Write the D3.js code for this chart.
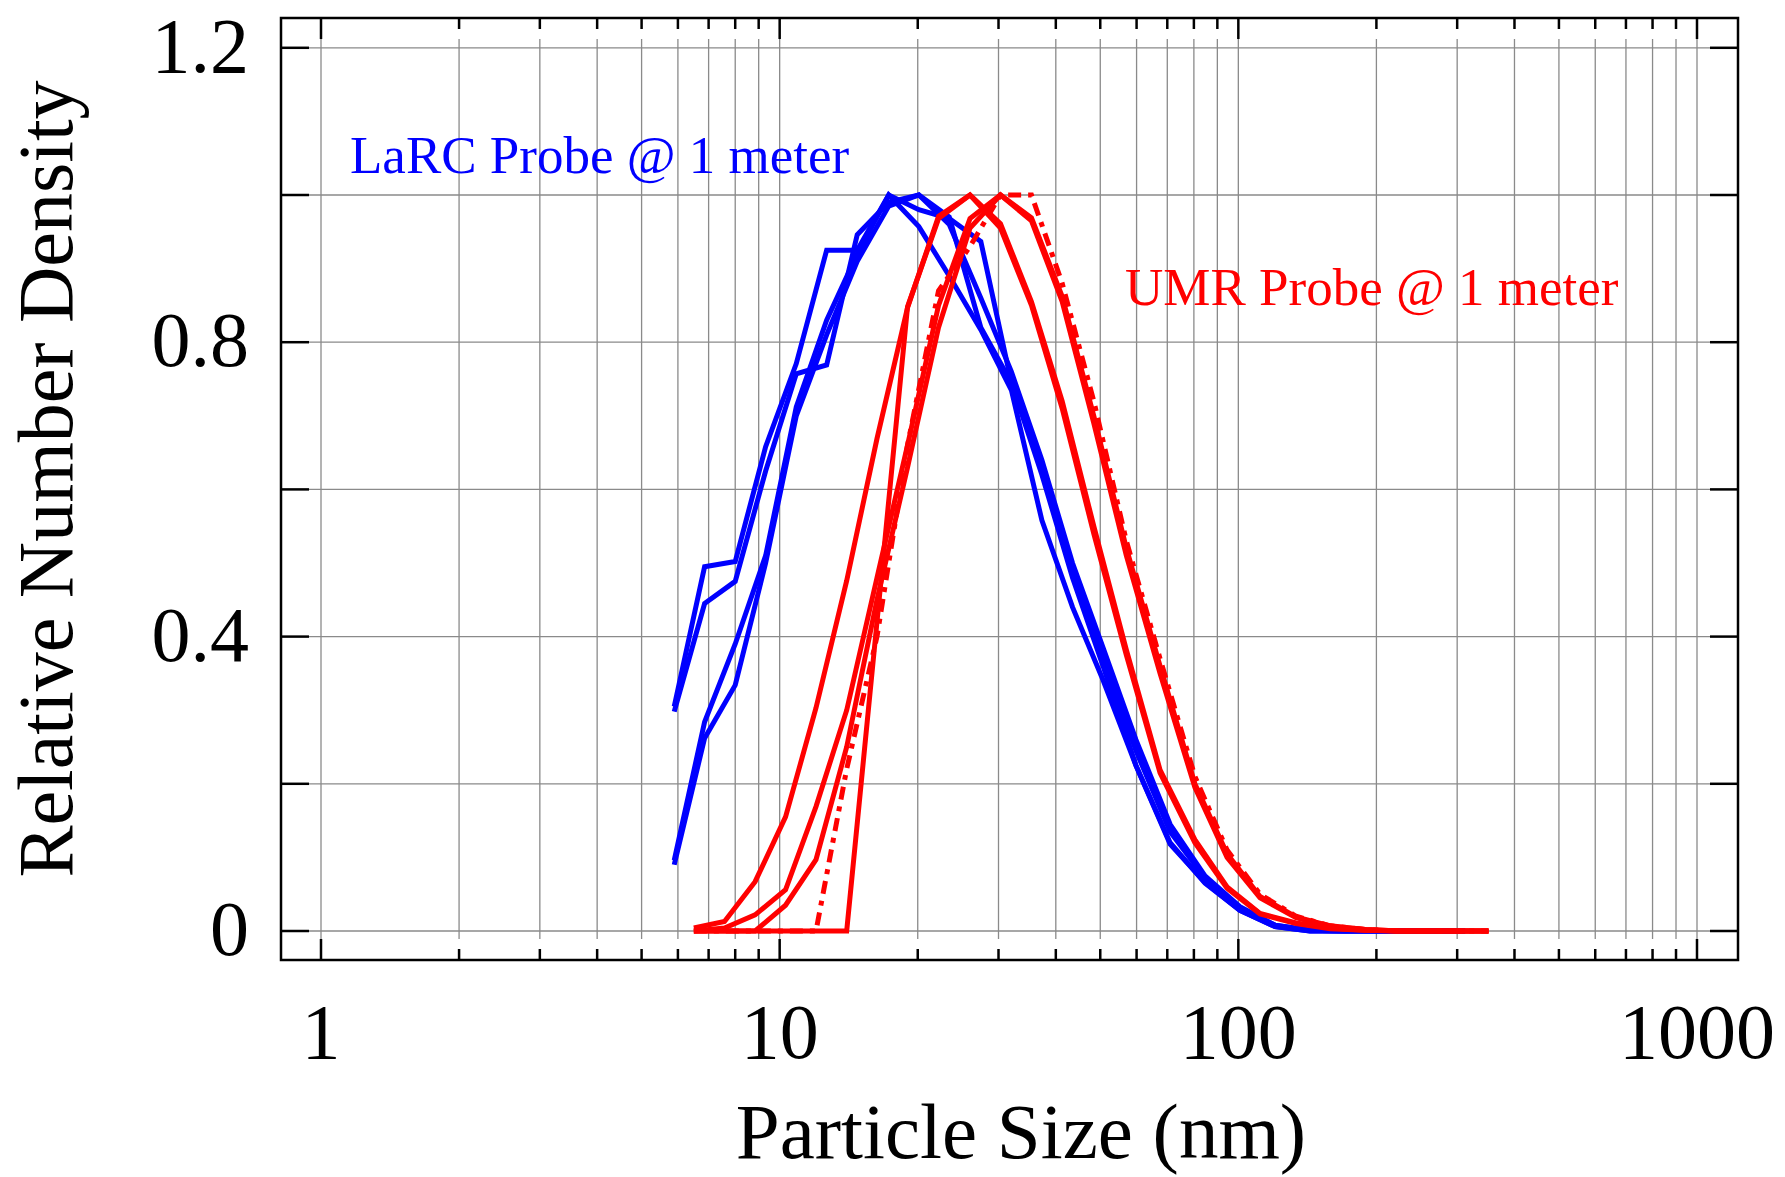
<!DOCTYPE html>
<html>
<head>
<meta charset="utf-8">
<script src="https://cdn.jsdelivr.net/npm/d3@7"></script>
<style>
  body { margin: 0; background: #fff; }
  text { font-family: "Liberation Serif", "Times New Roman", serif; }
</style>
</head>
<body>
<svg width="1785" height="1177"></svg>
<script>
// Size bins (nm)
const blueSize = [5.89, 6.86, 8.0, 9.32, 10.87, 12.66, 14.76, 17.29, 20.11, 23.43, 27.45, 32.0,
  37.3, 43.5, 50.7, 59.8, 71.0, 84.6, 100.8, 120.2, 143.3, 170.9, 203.8, 249.1, 312.3];
const redSize = [6.5, 7.58, 8.84, 10.3, 12.0, 14.0, 16.3, 19.0, 22.2, 26.0, 30.3, 35.4, 41.3,
  48.4, 57.0, 67.5, 80.4, 94.5, 111.5, 133.6, 158.5, 188.9, 225, 269, 312, 351];

// LaRC probe runs
const larcA = [0.305, 0.495, 0.502, 0.658, 0.771, 0.925, 0.925, 1.0, 0.98, 0.968, 0.937, 0.745,
  0.63, 0.49, 0.37, 0.245, 0.135, 0.072, 0.031, 0.008, 0.001, 0, 0, 0, 0];
const larcB = [0.298, 0.445, 0.475, 0.625, 0.757, 0.769, 0.946, 0.99, 1.0, 0.97, 0.82, 0.745,
  0.62, 0.48, 0.36, 0.225, 0.118, 0.066, 0.028, 0.006, 0, 0, 0, 0, 0];
const larcC = [0.096, 0.284, 0.39, 0.51, 0.712, 0.83, 0.92, 1.0, 0.957, 0.89, 0.817, 0.735,
  0.558, 0.44, 0.341, 0.225, 0.12, 0.065, 0.028, 0.006, 0, 0, 0, 0, 0];
const larcD = [0.09, 0.262, 0.334, 0.5, 0.7, 0.81, 0.91, 0.985, 1.0, 0.96, 0.86, 0.76,
  0.64, 0.5, 0.385, 0.26, 0.145, 0.075, 0.033, 0.008, 0.001, 0, 0, 0, 0];

// UMR probe runs
const umr1 = [0.004, 0.013, 0.067, 0.155, 0.303, 0.476, 0.669, 0.847, 0.971, 1.0, 0.961, 0.855,
  0.72, 0.55, 0.382, 0.219, 0.124, 0.06, 0.024, 0.011, 0.004, 0.001, 0, 0, 0, 0];
const umr2 = [0, 0.004, 0.022, 0.056, 0.169, 0.3, 0.48, 0.66, 0.85, 0.968, 1.0, 0.969,
  0.862, 0.7, 0.52, 0.36, 0.2, 0.105, 0.047, 0.019, 0.007, 0.002, 0, 0, 0, 0];
const umr3 = [0, 0, 0, 0.035, 0.097, 0.25, 0.45, 0.63, 0.82, 0.955, 1.0, 0.965,
  0.855, 0.69, 0.51, 0.35, 0.195, 0.1, 0.045, 0.018, 0.006, 0.002, 0, 0, 0, 0];
const umr4 = [0, 0, 0, 0, 0, 0, 0.42, 0.848, 0.968, 1.0, 0.955, 0.85,
  0.71, 0.54, 0.375, 0.215, 0.12, 0.058, 0.023, 0.01, 0.003, 0.001, 0, 0, 0, 0];
const umr5 = [0, 0, 0, 0, 0, 0.22, 0.4, 0.66, 0.87, 0.93, 1.0, 1.0,
  0.88, 0.72, 0.53, 0.37, 0.21, 0.11, 0.05, 0.02, 0.007, 0.002, 0, 0, 0, 0];

// Axis ticks
const xMajor = [1, 10, 100, 1000];
const xMajorLabels = ["1", "10", "100", "1000"];
const yTicks = [0, 0.2, 0.4, 0.6, 0.8, 1.0, 1.2];
const yLabels = [0, 0.4, 0.8, 1.2];

const svg = d3.select("svg");

// Frame and scales
const frame = { left: 281, right: 1738, top: 18, bottom: 960 };
const x = d3.scaleLog().domain([1, 1000]).range([321, 1697]);
const y = d3.scaleLinear().domain([0, 1.2]).range([931, 47.8]);

const yTickLen = 28, xMajorLen = 21, xMinorLen = 11;

const xMinor = [];
xMajor.forEach(function (m) {
  if (m === 1000) return;
  for (let k = 2; k <= 9; k++) xMinor.push(m * k);
});
const xAll = xMajor.concat(xMinor);

// Grid
const grid = svg.append("g").attr("stroke", "#8a8a8a").attr("stroke-width", 1.3);
grid.selectAll("line.v")
  .data(xAll)
  .enter()
  .append("line")
  .attr("x1", d => x(d)).attr("x2", d => x(d))
  .attr("y1", frame.top + xMajorLen).attr("y2", frame.bottom - xMajorLen);
grid.selectAll("line.h")
  .data(yTicks)
  .enter()
  .append("line")
  .attr("x1", frame.left + yTickLen).attr("x2", frame.right - yTickLen)
  .attr("y1", d => y(d)).attr("y2", d => y(d));

// Ticks on all four sides
const ticks = svg.append("g").attr("stroke", "#000").attr("stroke-width", 2.5);
yTicks.forEach(function (v) {
  ticks.append("line").attr("x1", frame.left).attr("x2", frame.left + yTickLen)
    .attr("y1", y(v)).attr("y2", y(v));
  ticks.append("line").attr("x1", frame.right).attr("x2", frame.right - yTickLen)
    .attr("y1", y(v)).attr("y2", y(v));
});
xAll.forEach(function (v) {
  const len = xMajor.includes(v) ? xMajorLen : xMinorLen;
  ticks.append("line").attr("x1", x(v)).attr("x2", x(v))
    .attr("y1", frame.top).attr("y2", frame.top + len);
  ticks.append("line").attr("x1", x(v)).attr("x2", x(v))
    .attr("y1", frame.bottom).attr("y2", frame.bottom - len);
});

// Curves
const line = d3.line().x(d => x(d[0])).y(d => y(d[1]));
const pairs = (xs, ys) => xs.map((s, i) => [s, ys[i]]);

const series = [
  { xs: blueSize, ys: larcA, color: "#0000ff" },
  { xs: blueSize, ys: larcB, color: "#0000ff" },
  { xs: blueSize, ys: larcC, color: "#0000ff" },
  { xs: blueSize, ys: larcD, color: "#0000ff" },
  { xs: redSize, ys: umr1, color: "#ff0000" },
  { xs: redSize, ys: umr2, color: "#ff0000" },
  { xs: redSize, ys: umr3, color: "#ff0000" },
  { xs: redSize, ys: umr4, color: "#ff0000" },
  { xs: redSize, ys: umr5, color: "#ff0000", dash: "13,7,5,7" }
];

svg.append("g")
  .selectAll("path")
  .data(series)
  .enter()
  .append("path")
  .attr("d", d => line(pairs(d.xs, d.ys)))
  .attr("fill", "none")
  .attr("stroke", d => d.color)
  .attr("stroke-width", 5)
  .attr("stroke-dasharray", d => d.dash || null);

// Frame on top
svg.append("rect")
  .attr("x", frame.left).attr("y", frame.top)
  .attr("width", frame.right - frame.left).attr("height", frame.bottom - frame.top)
  .attr("fill", "none").attr("stroke", "#000").attr("stroke-width", 2.5);

// Tick labels
svg.append("g")
  .selectAll("text")
  .data(yLabels)
  .enter()
  .append("text")
  .attr("x", 249)
  .attr("y", d => y(d) + 24)
  .attr("text-anchor", "end")
  .attr("font-size", 78)
  .text(d => d === 0 ? "0" : d3.format(".1f")(d));

svg.append("g")
  .selectAll("text")
  .data(xMajor)
  .enter()
  .append("text")
  .attr("x", d => x(d))
  .attr("y", 1058)
  .attr("text-anchor", "middle")
  .attr("font-size", 78)
  .text((d, i) => xMajorLabels[i]);

// Axis titles
svg.append("text")
  .attr("x", 1021).attr("y", 1158)
  .attr("text-anchor", "middle")
  .attr("font-size", 79)
  .text("Particle Size (nm)");

svg.append("text")
  .attr("transform", "translate(72,479) rotate(-90)")
  .attr("text-anchor", "middle")
  .attr("font-size", 78)
  .text("Relative Number Density");

// Annotations
svg.append("text")
  .attr("x", 350).attr("y", 173)
  .attr("font-size", 53)
  .attr("fill", "#0000ff")
  .text("LaRC Probe @ 1 meter");

svg.append("text")
  .attr("x", 1125).attr("y", 305)
  .attr("font-size", 53)
  .attr("fill", "#ff0000")
  .text("UMR Probe @ 1 meter");
</script>
</body>
</html>
